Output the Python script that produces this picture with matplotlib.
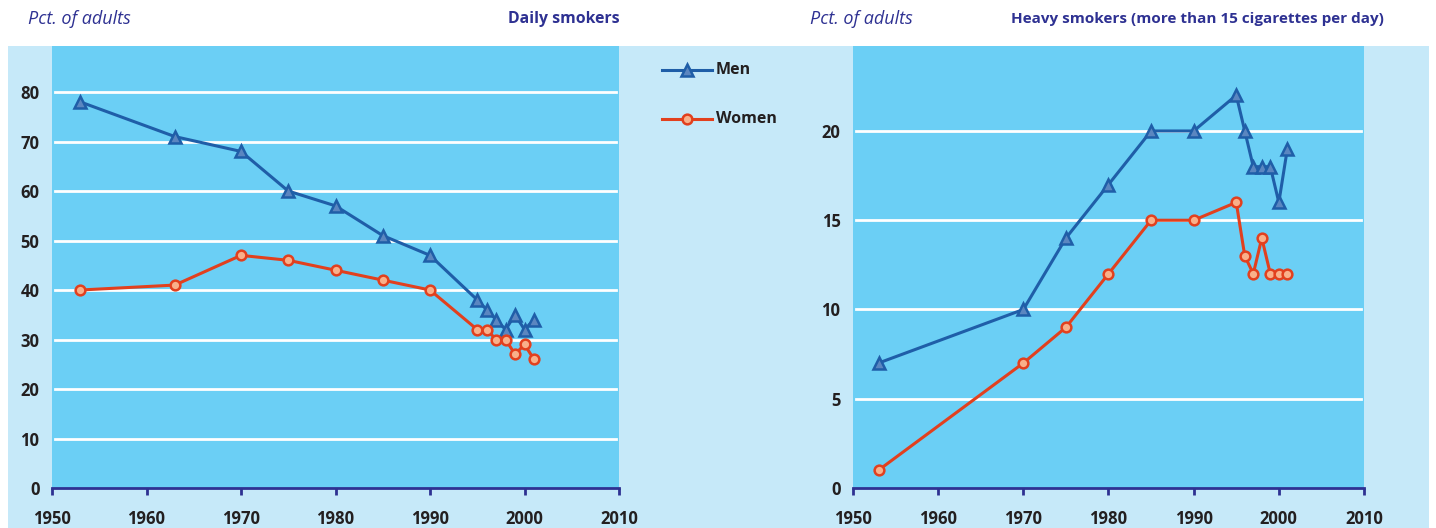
import matplotlib
matplotlib.use("Agg")
import matplotlib.pyplot as plt
from matplotlib.patches import Rectangle
from matplotlib.lines import Line2D

# ---- data ----
years_daily = [1953, 1963, 1970, 1975, 1980, 1985, 1990, 1995, 1996, 1997, 1998, 1999, 2000, 2001]
men_daily = [78, 71, 68, 60, 57, 51, 47, 38, 36, 34, 32, 35, 32, 34]
women_daily = [40, 41, 47, 46, 44, 42, 40, 32, 32, 30, 30, 27, 29, 26]

years_heavy = [1953, 1970, 1975, 1980, 1985, 1990, 1995, 1996, 1997, 1998, 1999, 2000, 2001]
men_heavy = [7, 10, 14, 17, 20, 20, 22, 20, 18, 18, 18, 16, 19]
women_heavy = [1, 7, 9, 12, 15, 15, 16, 13, 12, 14, 12, 12, 12]

x_ticks = [1950, 1960, 1970, 1980, 1990, 2000, 2010]
y_ticks_daily = [0, 10, 20, 30, 40, 50, 60, 70, 80]
y_ticks_heavy = [0, 5, 10, 15, 20]

title_left = "Daily smokers"
title_right = "Heavy smokers (more than 15 cigarettes per day)"
ylabel = "Pct. of adults"
series_names = ["Men", "Women"]

# ---- style ----
W, H = 1436, 528
PLOT_BG = "#6bcff5"
BAND_BG = "#c6e9f9"
NAVY = "#2e3192"
TXT = "#231f20"
MEN_C = "#1f5ea8"
MEN_FILL = "#5b86c0"
WOM_C = "#e2401e"
WOM_FILL = "#f9b08a"
FONT = "Open Sans"
TICK_FS = 12

fig = plt.figure(figsize=(W / 100, H / 100), dpi=100)
fig.patch.set_facecolor("white")

def fx(px):
    return px / W

def fy(py):
    return 1 - py / H

band = Rectangle((fx(8), 0), fx(1429) - fx(8), fy(46),
                 transform=fig.transFigure, facecolor=BAND_BG,
                 edgecolor="none", zorder=-5)
fig.add_artist(band)

def make_ax(x0, x1, ylim_top, yticks, years, men, women):
    ax = fig.add_axes([fx(x0), fy(488), fx(x1) - fx(x0), fy(46) - fy(488)])
    ax.set_zorder(1)
    ax.set_facecolor(PLOT_BG)
    ax.set_xlim(1950, 2010)
    ax.set_ylim(0, ylim_top)
    for s in ["top", "left", "right"]:
        ax.spines[s].set_visible(False)
    ax.spines["bottom"].set_color(NAVY)
    ax.spines["bottom"].set_linewidth(2)
    ax.set_xticks(x_ticks)
    ax.set_yticks(yticks)
    ax.tick_params(axis="x", direction="out", length=5, width=2, color=NAVY,
                   pad=11, labelsize=TICK_FS, labelcolor=TXT)
    ax.tick_params(axis="y", length=0, pad=9, labelsize=TICK_FS, labelcolor=TXT)
    for lab in ax.get_xticklabels() + ax.get_yticklabels():
        lab.set_fontfamily(FONT)
        lab.set_fontweight("bold")
    for v in yticks[1:]:
        ax.axhline(v, xmin=0.005, xmax=0.995, color="white", lw=2, zorder=1)
    ax.plot(years, men, color=MEN_C, lw=2.2, marker="^", ms=8,
            mfc=MEN_FILL, mec=MEN_C, mew=1.8, zorder=3, clip_on=False)
    ax.plot(years, women, color=WOM_C, lw=2.2, marker="o", ms=7,
            mfc=WOM_FILL, mec=WOM_C, mew=1.8, zorder=3, clip_on=False)
    return ax

ax1 = make_ax(52, 619, 89.3, y_ticks_daily, years_daily, men_daily, women_daily)
ax2 = make_ax(853, 1364, 24.76, y_ticks_heavy, years_heavy, men_heavy, women_heavy)

# titles
fig.text(fx(28), fy(19), ylabel, ha="left", va="center", fontsize=13,
         style="italic", color=NAVY, family=FONT)
fig.text(fx(620), fy(19), title_left, ha="right", va="center", fontsize=11.4,
         fontweight="bold", color=NAVY, family=FONT)
fig.text(fx(810), fy(19), ylabel, ha="left", va="center", fontsize=13,
         style="italic", color=NAVY, family=FONT)
fig.text(fx(1384), fy(19), title_right, ha="right", va="center", fontsize=11,
         fontweight="bold", color=NAVY, family=FONT)

# legend (manual, in the band between panels)
for name, yy, c, m, mf, ms in [(series_names[0], 70, MEN_C, "^", MEN_FILL, 8),
                               (series_names[1], 119, WOM_C, "o", WOM_FILL, 7)]:
    fig.add_artist(Line2D([fx(662), fx(712)], [fy(yy), fy(yy)],
                          transform=fig.transFigure, color=c, lw=2.2, zorder=2))
    fig.add_artist(Line2D([fx(687)], [fy(yy)], transform=fig.transFigure,
                          marker=m, ms=ms, mfc=mf, mec=c, mew=1.8, lw=0, zorder=2))
    fig.text(fx(716), fy(yy), name, ha="left", va="center", fontsize=11.5,
             fontweight="bold", color=TXT, family=FONT, zorder=2)

fig.savefig("out.png", dpi=100, facecolor=fig.get_facecolor())
